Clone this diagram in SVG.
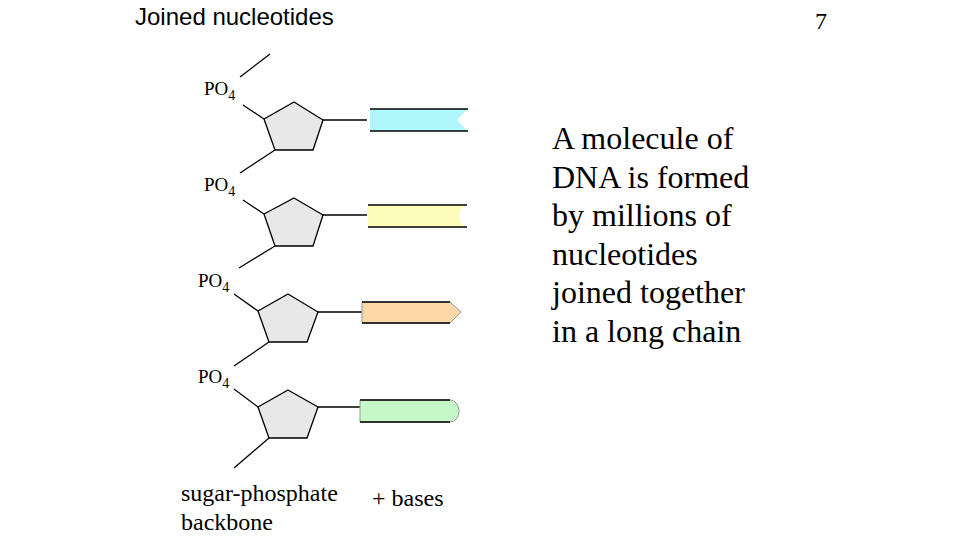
<svg xmlns="http://www.w3.org/2000/svg" width="960" height="540" viewBox="0 0 960 540">
<style>
.s{font-family:"Liberation Serif",serif;fill:#000}
.ln{stroke:#000;stroke-width:1.3;fill:none}
.p{fill:#e8e8e8;stroke:#000;stroke-width:1.3}
.b{stroke:#000;stroke-width:1.3}
</style>
<rect width="960" height="540" fill="#fff"/>
<text x="135" y="25" font-family="Liberation Sans,sans-serif" font-size="24">Joined nucleotides</text>
<text x="815" y="29" class="s" font-size="24">7</text>
<g id="connectors" class="ln">
<line x1="240" y1="77" x2="270" y2="54"/>
<line x1="243" y1="105" x2="264" y2="119"/>
<line x1="275" y1="150" x2="240" y2="173"/>
<line x1="323" y1="120" x2="367" y2="120"/>
<line x1="243" y1="200" x2="264" y2="214"/>
<line x1="275" y1="246" x2="239" y2="268"/>
<line x1="323" y1="215" x2="367" y2="215"/>
<line x1="234" y1="294" x2="258" y2="311"/>
<line x1="269" y1="342" x2="234" y2="366"/>
<line x1="318" y1="312" x2="362" y2="312"/>
<line x1="234" y1="389" x2="258" y2="407"/>
<line x1="269" y1="438" x2="234" y2="468"/>
<line x1="318" y1="407" x2="360" y2="407"/>
</g>
<g id="n1"><polygon class="p" points="294,102 323,120 313,150 275,150 264,119"/>
<text x="204" y="95" class="s" font-size="19">PO<tspan font-size="14" dy="5">4</tspan></text></g>
<g id="n2"><polygon class="p" points="294,198 323,215 313,246 275,246 264,214"/>
<text x="204" y="191" class="s" font-size="19">PO<tspan font-size="14" dy="5">4</tspan></text></g>
<g id="n3"><polygon class="p" points="288,294 318,312 307,342 269,342 258,311"/>
<text x="198" y="287" class="s" font-size="19">PO<tspan font-size="14" dy="5">4</tspan></text></g>
<g id="n4"><polygon class="p" points="288,390 318,407 307,438 269,438 258,407"/>
<text x="198" y="383" class="s" font-size="19">PO<tspan font-size="14" dy="5">4</tspan></text></g>
<g id="base1"><path d="M370,109 H468 L457,120 L468,131 H370 Z" fill="#aff7fa"/><path class="b" d="M370,109 H468 M370,131 H468"/></g>
<g id="base2"><path d="M368,205 H467 A8,11 0 0 0 467,227 H368 Z" fill="#fdfcb8"/><path class="b" d="M368,205 H467 M368,227 H467"/></g>
<g id="base3"><path d="M362,302 H450 L461,312 L450,323 H362 Z" fill="#fcd9a6" stroke="#999" stroke-width="1"/><path class="b" d="M362,302 H450 M362,323 H450"/></g>
<g id="base4"><path d="M360,400 H450 A9,11 0 0 1 450,422 H360 Z" fill="#c6f7c6" stroke="#999" stroke-width="1"/><path class="b" d="M360,400 H450 M360,422 H450"/></g>
<g id="desc" class="s" font-size="32">
<text x="552" y="149">A molecule of</text>
<text x="552" y="188">DNA is formed</text>
<text x="552" y="226">by millions of</text>
<text x="552" y="265">nucleotides</text>
<text x="552" y="303">joined together</text>
<text x="552" y="342">in a long chain</text>
</g>
<text x="181" y="501" class="s" font-size="24">sugar-phosphate</text>
<text x="181" y="530" class="s" font-size="24">backbone</text>
<text x="372" y="506" class="s" font-size="24">+ bases</text>
</svg>
